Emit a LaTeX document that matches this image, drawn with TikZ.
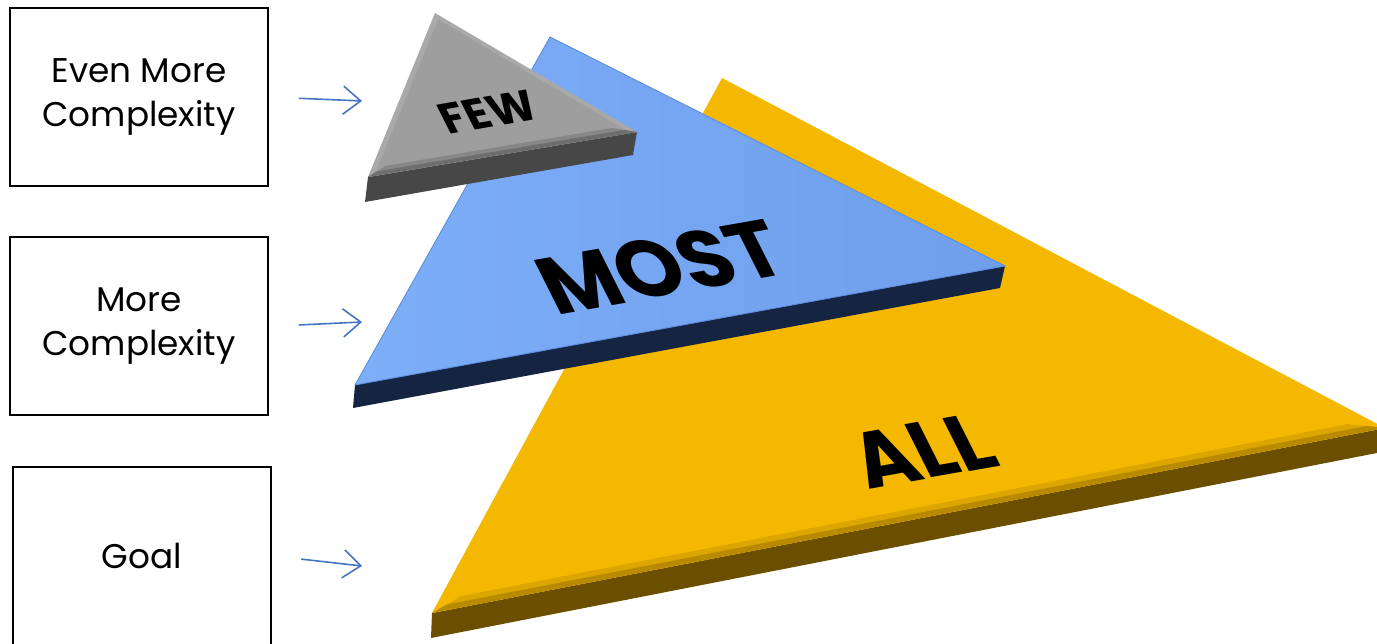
\documentclass[tikz,border=0pt]{standalone}
\usepackage{fontspec}
\setmainfont{Poppins}
\usetikzlibrary{positioning,calc,arrows.meta}

\definecolor{goldtop}{HTML}{F5B800}
\definecolor{goldmid}{HTML}{DDA500}
\definecolor{goldlow}{HTML}{B88A00}
\definecolor{goldside}{HTML}{6B4E00}
\definecolor{bluelight}{HTML}{7DAEF8}
\definecolor{bluedark}{HTML}{6F9EEB}
\definecolor{blueedge}{HTML}{5B8CE0}
\definecolor{blueside}{HTML}{152440}
\definecolor{graytop}{HTML}{9E9E9E}
\definecolor{graylight}{HTML}{A9A9A9}
\definecolor{graymid}{HTML}{878787}
\definecolor{graylow}{HTML}{6E6E6E}
\definecolor{grayside}{HTML}{474747}
\definecolor{arrowblue}{HTML}{4472C4}

\begin{document}
\begin{tikzpicture}[x=0.02cm,y=-0.02cm,
		stage/.style={draw,line width=1.1pt,minimum width=5.16cm,minimum height=3.56cm,align=center,font=\fontsize{19.5}{25}\selectfont},
		pointer/.style={draw=arrowblue,line width=0.9pt,shorten <=17pt,-{Straight Barb[length=10pt,width=16pt]}},
		tag/.style={font=\bfseries\fontsize{#1}{#1}\selectfont,rotate=10,xslant=-0.3,inner sep=0pt}]
		\useasboundingbox (0,0) rectangle (1377,644);

		% ALL
		\coordinate (ya) at (722,78);
		\coordinate (yl) at (432,613);
		\coordinate (yr) at (1385,428);
		\coordinate (ysl) at (431,638);
		\coordinate (ysr) at (1382,452);
		\coordinate (yg) at (846,373);
		\fill[goldside] (yl) -- (yr) -- (ysr) -- (ysl) -- cycle;
		\fill[goldtop] (ya) -- (yl) -- (yr) -- cycle;
		\fill[goldmid] (yl) -- (yr) -- ($(yr)!0.07!(yg)$) -- ($(yl)!0.07!(yg)$) -- cycle;
		\fill[goldlow] (yl) -- (yr) -- ($(yr)!0.035!(yg)$) -- ($(yl)!0.035!(yg)$) -- cycle;

		% MOST
		\coordinate (ba) at (550,37);
		\coordinate (bl) at (355,385);
		\coordinate (br) at (1005,266);
		\coordinate (bsl) at (353,408);
		\coordinate (bsr) at (1000,288);
		\fill[blueside] (bl) -- (br) -- (bsr) -- (bsl) -- cycle;
		\shade[left color=bluelight,right color=bluedark] (ba) -- (bl) -- (br) -- cycle;
		\draw[blueedge,line width=0.5pt,line join=round] (ba) -- (bl) -- (br) -- cycle;

		% FEW
		\coordinate (ga) at (435,13);
		\coordinate (gl) at (368,177);
		\coordinate (gr) at (637,132);
		\coordinate (gsl) at (365,202);
		\coordinate (gsr) at (633,155);
		\coordinate (gg) at (480,107);
		\fill[grayside] (gl) -- (gr) -- (gsr) -- (gsl) -- cycle;
		\fill[graylight] (ga) -- (gl) -- (gr) -- cycle;
		\fill[graytop] ($(ga)!0.07!(gg)$) -- ($(gl)!0.07!(gg)$) -- ($(gr)!0.07!(gg)$) -- cycle;
		\fill[graymid] (gl) -- (gr) -- ($(gr)!0.16!(gg)$) -- ($(gl)!0.16!(gg)$) -- cycle;
		\fill[graylow] (gl) -- (gr) -- ($(gr)!0.08!(gg)$) -- ($(gl)!0.08!(gg)$) -- cycle;

		\node[tag=25] (few) at (488,112) {FEW};
		\node[tag=47] (most) at (661,267) {MOST};
		\node[tag=46] (all) at (922,451) {ALL};

		\node[stage] (b1) at (139,97) {Even More\\Complexity};
		\node[stage,node distance=0.99cm,below=of b1] (b2) {More\\Complexity};
		\node[stage,node distance=0.99cm,below=of b2,xshift=1.5] (b3) {Goal};

		\coordinate (t1) at (362,101);
		\coordinate (t2) at (362,322);
		\coordinate (t3) at (362,566);
		\draw[pointer] (b1.east) -- (t1);
		\draw[pointer] (b2.east) -- (t2);
		\draw[pointer] (b3.east) -- (t3);
	\end{tikzpicture}
\end{document}
